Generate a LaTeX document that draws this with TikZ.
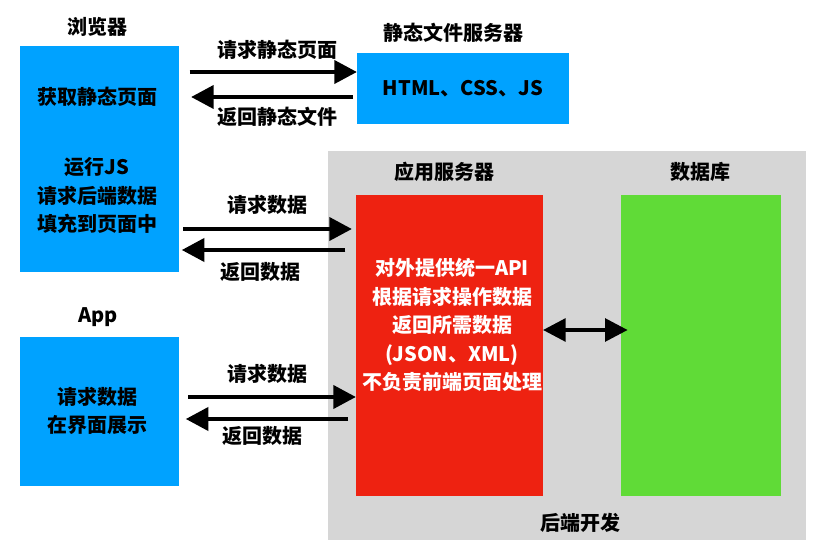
\documentclass[tikz,border=0pt]{standalone}
\usepackage{fontspec}
\setmainfont{Noto Sans CJK SC}
\usetikzlibrary{arrows.meta}

\definecolor{boxblue}{RGB}{0,162,255}
\definecolor{boxred}{RGB}{238,34,17}
\definecolor{boxgreen}{RGB}{96,219,55}
\definecolor{backgray}{RGB}{214,214,214}

\begin{document}
\begin{tikzpicture}[x=0.75pt,y=-0.75pt,
  every node/.style={font=\fontsize{15}{21.4}\selectfont\bfseries},
  box/.style={inner sep=0pt, outer sep=0pt},
  fat/.style={line width=3.6pt, -{Triangle[length=17pt,width=17pt]}},
  both/.style={line width=3pt, {Triangle[length=17pt,width=17pt]}-{Triangle[length=17pt,width=17pt]}}]
  \useasboundingbox (0,0) rectangle (827,555);

  % boxes
  \node[box, fill=boxblue, minimum width=119.25pt, minimum height=169.5pt]  (browser) at (99.5,159) {};
  \node[box, fill=boxblue, minimum width=159pt, minimum height=53.25pt]     (static)  at (463,88.5) {};
  \node[box, fill=boxblue, minimum width=119.25pt, minimum height=111.75pt] (app)     at (99.5,411.5) {};
  \node[box, fill=backgray, minimum width=358.5pt, minimum height=291.75pt] (backend) at (567,345.5) {};
  \node[box, fill=boxred, minimum width=140.25pt, minimum height=225.75pt]  (appsrv)  at (449.5,345.5) {};
  \node[box, fill=boxgreen, minimum width=120pt, minimum height=225.75pt]   (db)      at (701,345.5) {};

  % titles
  \node (tbrowser) at (97,27)   {浏览器};
  \node (tstatic)  at (453,33)  {静态文件服务器};
  \node (tappsrv)  at (444,172) {应用服务器};
  \node (tdb)      at (700,172) {数据库};
  \node (tapp)     at (98,317)  {App};
  \node (tback)    at (580,523) {后端开发};

  % texts inside the boxes
  \node (fetch)  at (97,97)    {获取静态页面};
  \node[align=center] (runjs) at (97,195.5) {运行JS\\请求后端数据\\填充到页面中};
  \node (files)  at (463,89)   {HTML、CSS、JS};
  \node[align=center] (show) at (97,411) {请求数据\\在界面展示};
  \node[align=center, text=white] (api) at (452,325)
    {对外提供统一API\\根据请求操作数据\\返回所需数据\\(JSON、XML)\\不负责前端页面处理};

  % arrow rows
  \coordinate (r1) at (0,72);
  \coordinate (r2) at (0,97);
  \coordinate (r3) at (0,229);
  \coordinate (r4) at (0,250);
  \coordinate (r5) at (0,397);
  \coordinate (r6) at (0,419);
  \coordinate (r7) at (0,330);

  % arrows
  \draw[fat] ([xshift=8pt]browser.east |- r1) -- (static.west |- r1);
  \draw[fat] ([xshift=-3pt]static.west |- r2) -- ([xshift=9pt]browser.east |- r2);
  \draw[fat] ([xshift=3pt]browser.east |- r3) -- ([xshift=-3pt]appsrv.west |- r3);
  \draw[fat] ([xshift=-8pt]appsrv.west |- r4) -- ([xshift=2pt]browser.east |- r4);
  \draw[fat] ([xshift=7pt]app.east |- r5) -- (appsrv.west |- r5);
  \draw[fat] ([xshift=-6pt]appsrv.west |- r6) -- ([xshift=5pt]app.east |- r6);
  \draw[both] (appsrv.east |- r7) -- ([xshift=5pt]db.west |- r7);

  % arrow labels
  \node (l1) at (277,50)  {请求静态页面};
  \node (l2) at (277,117) {返回静态文件};
  \node (l3) at (267,205) {请求数据};
  \node (l4) at (260,272) {返回数据};
  \node (l5) at (267,374) {请求数据};
  \node (l6) at (262,436) {返回数据};
\end{tikzpicture}
\end{document}
